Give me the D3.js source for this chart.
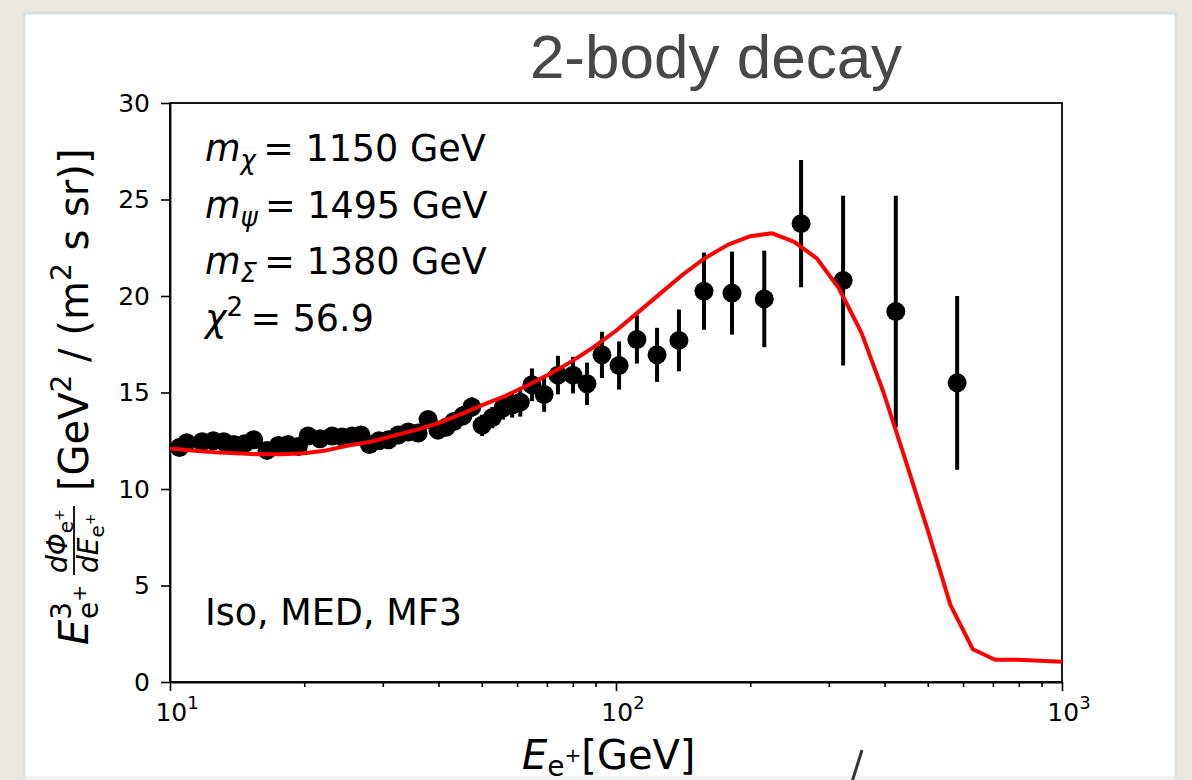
<!DOCTYPE html>
<html>
<head>
<meta charset="utf-8">
<script src="https://cdn.jsdelivr.net/npm/d3@7"></script>
<style>
  body { margin: 0; background: #ebe8e1; }
  svg { display: block; }
  text { font-family: "DejaVu Sans", sans-serif; fill: #000; }
</style>
</head>
<body>
<svg id="chart"></svg>
<script>
// positron flux data points (E [GeV], E^3 flux, error)
const energies = [10.5, 10.9, 11.8, 12.5, 13.2, 13.9, 14.7, 15.4, 16.5, 17.5, 18.4, 19.4, 20.4, 21.7,
  23.1, 24.3, 25.6, 26.8, 28.0, 29.4, 30.9, 32.5, 34.2, 36.0, 37.9, 39.9, 41.6, 43.3, 45.4, 47.5,
  50.1, 52.8, 55.8, 58.5, 61.0, 64.8, 69.0, 74.1, 80.1, 86.1, 93.0, 101.6, 111.4, 123.6, 138.4,
  157.5, 182, 215, 260, 323, 424, 582];
const fluxValues = [12.15, 12.4, 12.45, 12.5, 12.45, 12.3, 12.35, 12.55, 12.0, 12.25, 12.3, 12.2, 12.75, 12.6,
  12.75, 12.7, 12.75, 12.8, 12.3, 12.5, 12.55, 12.8, 12.95, 12.9, 13.6, 13.05, 13.2, 13.5, 13.8, 14.25,
  13.3, 13.7, 14.2, 14.35, 14.5, 15.4, 14.9, 15.9, 15.9, 15.45, 16.95, 16.4, 17.75, 16.95, 17.7,
  20.25, 20.15, 19.85, 23.75, 20.8, 19.2, 15.5];
const fluxErrors = [0.15, 0.15, 0.15, 0.15, 0.15, 0.15, 0.15, 0.15, 0.2, 0.2, 0.2, 0.2, 0.2, 0.2,
  0.25, 0.25, 0.25, 0.3, 0.3, 0.3, 0.3, 0.35, 0.35, 0.4, 0.4, 0.4, 0.45, 0.45, 0.5, 0.5,
  0.55, 0.55, 0.6, 0.65, 0.75, 0.85, 0.9, 1.0, 0.95, 1.1, 1.2, 1.25, 1.25, 1.4, 1.6,
  2.0, 2.15, 2.5, 3.3, 4.4, 6.0, 4.5];

// model curve
const modelEnergies = [10, 11.2, 12.6, 14.1, 15.8, 17.8, 20.0, 22.4, 25.1, 28.2, 31.6, 35.5, 39.8, 44.7,
  50.1, 56.2, 63.1, 70.8, 79.4, 89.1, 100, 112, 126, 141, 158, 178, 200, 224, 251, 282, 316, 355,
  398, 447, 501, 562, 631, 708, 794, 891, 1000];
const modelValues = [12.1, 12.0, 11.9, 11.85, 11.8, 11.8, 11.85, 12.0, 12.25, 12.45, 12.75, 13.05, 13.4, 13.85,
  14.35, 14.8, 15.35, 15.95, 16.6, 17.35, 18.2, 19.15, 20.15, 21.1, 21.95, 22.65, 23.1, 23.25, 22.8, 21.95,
  20.4, 18.1, 15.0, 11.4, 7.8, 4.0, 1.7, 1.15, 1.15, 1.1, 1.05];

const yTicks = [0, 5, 10, 15, 20, 25, 30];
const xMajorTicks = [10, 100, 1000];
const xMinorTicks = [20, 30, 40, 50, 60, 70, 80, 90, 200, 300, 400, 500, 600, 700, 800, 900];

const annotations = [
  { sym: 'χ', rest: '1150 GeV' },
  { sym: 'ψ', rest: '1495 GeV' },
  { sym: 'Σ', rest: '1380 GeV' },
];

const config = {
  width: 1192,
  height: 780,
  margin: { top: 103, right: 130, bottom: 95, left: 170 },
};

const svg = d3.select('#chart')
  .attr('width', config.width)
  .attr('height', config.height);

// card background
svg.append('rect')
  .attr('x', 24).attr('y', 13)
  .attr('width', 1152).attr('height', 775)
  .attr('fill', '#fff')
  .attr('stroke', '#dde1de')
  .attr('stroke-width', 3);

const plotW = config.width - config.margin.left - config.margin.right;
const plotH = config.height - config.margin.top - config.margin.bottom - 3;

const x = d3.scaleLog().domain([10, 1000]).range([0, plotW]);
const y = d3.scaleLinear().domain([0, 30]).range([plotH, 0]);

// title
svg.append('text')
  .attr('x', 716).attr('y', 78)
  .attr('text-anchor', 'middle')
  .style('font-family', '"Liberation Sans", Arial, sans-serif')
  .style('font-size', '62px')
  .style('fill', '#474747')
  .text('2-body decay');

const chart = svg.append('g')
  .attr('transform', `translate(${config.margin.left},${config.margin.top})`);

// axes
const yAxis = d3.axisLeft(y).tickValues(yTicks).tickSize(9).tickSizeOuter(0).tickPadding(11);
const yAxisG = chart.append('g').call(yAxis);
yAxisG.selectAll('text').style('font-size', '25px').style('font-family', '"DejaVu Sans"');

const xMinor = d3.axisBottom(x).tickValues(xMinorTicks).tickSize(5).tickFormat('').tickSizeOuter(0);
chart.append('g').attr('transform', `translate(0,${plotH})`).call(xMinor)
  .call((g) => g.select('.domain').remove());

const xAxis = d3.axisBottom(x).tickValues(xMajorTicks).tickSize(9).tickSizeOuter(0).tickFormat('');
chart.append('g').attr('transform', `translate(0,${plotH})`).call(xAxis);

chart.selectAll('.tick line').attr('stroke-width', 1.6);
chart.selectAll('.domain').attr('stroke-width', 1.8);

// x tick labels 10^n
xMajorTicks.forEach((t) => {
  const lbl = chart.append('text')
    .attr('x', x(t) + 7)
    .attr('y', plotH + 39)
    .attr('text-anchor', 'middle')
    .style('font-size', '25px');
  lbl.append('tspan').text('10');
  lbl.append('tspan').attr('dy', -12).style('font-size', '18px').text(Math.round(Math.log10(t)));
});

// frame
chart.append('rect')
  .attr('width', plotW).attr('height', plotH)
  .attr('fill', 'none').attr('stroke', '#000').attr('stroke-width', 1.8);

// error bars
chart.selectAll('.err')
  .data(energies)
  .join('line')
  .attr('class', 'err')
  .attr('x1', (d) => x(d)).attr('x2', (d) => x(d))
  .attr('y1', (d, i) => y(fluxValues[i] - fluxErrors[i]))
  .attr('y2', (d, i) => y(fluxValues[i] + fluxErrors[i]))
  .attr('stroke', '#000').attr('stroke-width', 4);

chart.selectAll('.pt')
  .data(energies)
  .join('circle')
  .attr('class', 'pt')
  .attr('cx', (d) => x(d))
  .attr('cy', (d, i) => y(fluxValues[i]))
  .attr('r', 9.5)
  .attr('fill', '#000');

// model line
const line = d3.line()
  .x((d) => x(d[0]))
  .y((d) => y(d[1]));
chart.append('path')
  .datum(modelEnergies.map((e, i) => [e, modelValues[i]]))
  .attr('d', line)
  .attr('fill', 'none')
  .attr('stroke', '#ff0000')
  .attr('stroke-width', 4)
  .attr('stroke-linejoin', 'round');

// annotations
annotations.forEach((a, i) => {
  const t = svg.append('text')
    .attr('x', 205).attr('y', 161 + i * 56.5)
    .style('font-size', '36.5px');
  t.append('tspan').style('font-style', 'italic').text('m');
  t.append('tspan').attr('dy', 8).style('font-size', '26px').style('font-style', 'italic').text(a.sym);
  t.append('tspan').attr('dy', -8).text('\u2009= ' + a.rest);
});
const chi = svg.append('text')
  .attr('x', 205).attr('y', 161 + 3 * 56.5)
  .style('font-size', '36.5px');
chi.append('tspan').style('font-style', 'italic').text('χ');
chi.append('tspan').attr('dy', -15).style('font-size', '26px').text('2');
chi.append('tspan').attr('dy', 15).text('\u2009= 56.9');

svg.append('text')
  .attr('x', 205).attr('y', 625)
  .style('font-size', '36.5px')
  .text('Iso, MED, MF3');

// x axis label
const xl = svg.append('text')
  .attr('x', 522).attr('y', 769)
  .style('font-size', '40px');
xl.append('tspan').style('font-style', 'italic').text('E');
xl.append('tspan').attr('dy', 7).style('font-size', '28px').text('e');
xl.append('tspan').attr('dy', -14).style('font-size', '20px').text('+');
xl.append('tspan').attr('dy', 7).text('[GeV]');

// y axis label (rotated)
const yl = svg.append('g').attr('transform', 'translate(88,645) rotate(-90)');
const yt = yl.append('text').style('font-size', '40px');
yt.append('tspan').style('font-style', 'italic').text('E');
yt.append('tspan').attr('dy', -17).style('font-size', '28px').text('3');
yt.append('tspan').attr('dx', -17).attr('dy', 27).style('font-size', '28px').text('e');
yt.append('tspan').attr('dy', -12).style('font-size', '20px').text('+');
const num = yl.append('text').attr('x', 72).attr('y', -21).style('font-size', '28px');
num.append('tspan').style('font-style', 'italic').text('dΦ');
num.append('tspan').attr('dy', 6).style('font-size', '20px').text('e');
num.append('tspan').attr('dy', -9).style('font-size', '14px').text('+');
yl.append('line').attr('x1', 70).attr('x2', 139).attr('y1', -14).attr('y2', -14)
  .attr('stroke', '#000').attr('stroke-width', 1.8);
const den = yl.append('text').attr('x', 72).attr('y', 10).style('font-size', '28px');
den.append('tspan').style('font-style', 'italic').text('dE');
den.append('tspan').attr('dy', 6).style('font-size', '20px').text('e');
den.append('tspan').attr('dy', -9).style('font-size', '14px').text('+');
const unit = yl.append('text').attr('x', 154).attr('y', 0).style('font-size', '40px');
unit.append('tspan').text('[GeV');
unit.append('tspan').attr('dy', -17).style('font-size', '28px').text('2');
unit.append('tspan').attr('dy', 17).text(' / (m');
unit.append('tspan').attr('dy', -17).style('font-size', '28px').text('2');
unit.append('tspan').attr('dy', 17).text(' s sr)]');

// bottom strip of the slide
svg.append('rect')
  .attr('x', 25).attr('y', 776)
  .attr('width', 1150).attr('height', 5)
  .attr('fill', '#f1f3f1');

// stray stroke at bottom
svg.append('line')
  .attr('x1', 862).attr('y1', 750).attr('x2', 852).attr('y2', 782)
  .attr('stroke', '#333').attr('stroke-width', 3);
</script>
</body>
</html>
